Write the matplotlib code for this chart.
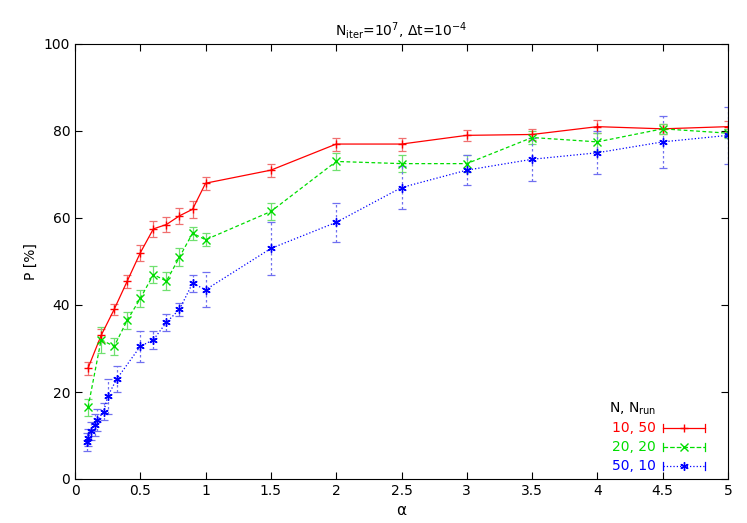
import matplotlib
matplotlib.use("Agg")
import matplotlib.pyplot as plt
from matplotlib.lines import Line2D

a_red = [0.1,0.2,0.3,0.4,0.5,0.6,0.7,0.8,0.9,1.0,1.5,2,2.5,3,3.5,4,4.5,5]
p_red = [25.5,33,39,45.5,52,57.5,58.5,60.5,62,68,71,77,77,79,79.2,81,80.5,81]
e_red = [1.5,1.5,1.3,1.5,1.8,1.8,1.8,1.8,2,1.5,1.5,1.5,1.5,1.2,1.2,1.5,1.2,1.2]
a_grn = [0.1,0.2,0.3,0.4,0.5,0.6,0.7,0.8,0.9,1.0,1.5,2,2.5,3,3.5,4,4.5,5]
p_grn = [16.5,32,30.5,36.5,41.5,47,45.5,51,56.5,55,61.5,73,72.5,72.5,78.5,77.5,80.5,79.5]
e_grn = [2,3,2,2,2,2,2,2,1.5,1.5,2,2,2,2,1.5,2,1.2,1]
a_blu = [0.09,0.1,0.12,0.15,0.17,0.22,0.25,0.32,0.5,0.6,0.7,0.8,0.9,1.0,1.5,2,2.5,3,3.5,4,4.5,5]
p_blu = [8.5,9.5,11,12.5,13.5,15.5,19,23,30.5,32,36,39,45,43.5,53,59,67,71,73.5,75,77.5,79]
e_blu = [2,2,2,2.5,2.5,2,4,3,3.5,2,2,1.5,2,4,6,4.5,5,3.5,5,5,6,6.5]

fig = plt.figure(figsize=(7.47,5.23), dpi=100)
ax = fig.add_axes([75/747, 44/523, 653/747, 435/523])
kw = dict(lw=0.9, elinewidth=0.9, capsize=3, capthick=0.9, ms=6)
ax.errorbar(a_red, p_red, yerr=e_red, color="#ff0000", ecolor="#f07070", marker="+", ls="-", **kw)
ax.errorbar(a_grn, p_grn, yerr=e_grn, color="#00dd00", ecolor="#70e070", marker="x", ls="--", dashes=(3,2), **kw)
_, _, bars = ax.errorbar(a_blu, p_blu, yerr=e_blu, color="#0000ff", ecolor="#7070f0", marker=(6,2,0), ls=":", **kw)
for b in bars:
    b.set_linestyle((0,(2,2)))
ax.set_xlim(0,5); ax.set_ylim(0,100)
ax.set_xticks([0,0.5,1,1.5,2,2.5,3,3.5,4,4.5,5])
ax.set_xticklabels(["0","0.5","1","1.5","2","2.5","3","3.5","4","4.5","5"])
ax.set_yticks(range(0,101,20))
ax.tick_params(direction="in", top=True, right=True, labelsize=10, length=5)
ax.set_xlabel("α", fontsize=11)
ax.set_ylabel("P [%]", fontsize=10)
ax.set_title(r"N$_{\rm iter}$=10$^7$, $\Delta$t=10$^{-4}$", fontsize=10)
fig.text(656/747, 1-409/523, r"N, N$_{\rm run}$", ha="right", va="center", fontsize=10)
for y, lab, c, ls, m in [(428,"10, 50","#ff0000","-","+"),(447,"20, 20","#00dd00","--","x"),(466,"50, 10","#0000ff",":",(6,2,0))]:
    yf = 1-y/523
    fig.text(656/747, yf, lab, color=c, ha="right", va="center", fontsize=10)
    fig.add_artist(Line2D([663/747,705/747],[yf,yf], color=c, ls=ls, lw=0.9))
    fig.add_artist(Line2D([684/747],[yf], color=c, marker=m, ms=6, lw=0))
    for xx in (663,705):
        fig.add_artist(Line2D([xx/747,xx/747],[yf-4/523,yf+4/523], color=c, lw=0.9))
fig.savefig("out.png", dpi=100)
